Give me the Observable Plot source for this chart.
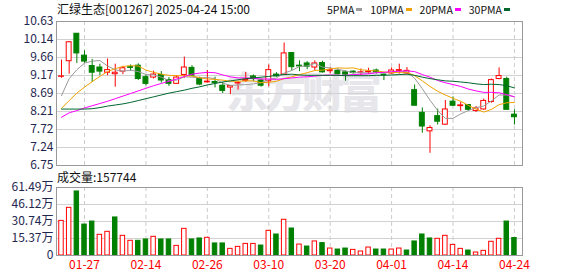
<!DOCTYPE html>
<html><head><meta charset="utf-8">
<script src="https://cdn.jsdelivr.net/npm/d3@7"></script>
<script src="https://cdn.jsdelivr.net/npm/@observablehq/plot@0.6"></script>
<style>
body{margin:0;background:#fff;}
#wrap{position:relative;width:578px;height:276px;overflow:hidden;font-family:"Noto Sans CJK SC","Liberation Sans",sans-serif;color:#111;}
.abs{position:absolute;white-space:nowrap;line-height:14px;}
.sw{position:absolute;width:6px;height:3px;}
#wm{position:absolute;left:226px;top:66px;font-size:42px;font-weight:900;letter-spacing:-4px;color:#e6e6eb;line-height:48px;}
.panel{position:absolute;left:0;}
</style></head><body><div id="wrap"></div>
<script>
const title = "汇绿生态[001267] 2025-04-24 15:00";
const dates = ["01-22","01-23","01-24","01-27","02-05","02-06","02-07","02-10","02-11","02-12","02-13","02-14","02-17","02-18","02-19","02-20","02-21","02-24","02-25","02-26","02-27","02-28","03-03","03-04","03-05","03-06","03-07","03-10","03-11","03-12","03-13","03-14","03-17","03-18","03-19","03-20","03-21","03-24","03-25","03-26","03-27","03-28","03-31","04-01","04-02","04-03","04-07","04-08","04-09","04-10","04-11","04-14","04-15","04-16","04-17","04-18","04-21","04-22","04-23","04-24"];
const open  = [9.14,9.56,10.30,9.71,9.43,9.39,9.25,9.21,9.28,9.40,9.44,9.13,9.12,9.19,9.05,8.95,9.19,9.38,9.08,8.99,9.00,8.90,8.85,8.96,9.03,9.15,9.04,9.02,9.20,9.20,9.78,9.44,9.50,9.39,9.51,9.29,9.30,9.26,9.28,9.25,9.26,9.31,9.20,9.23,9.30,9.23,8.78,8.17,7.67,8.08,7.85,8.47,8.35,8.38,8.22,8.26,8.46,9.08,9.08,8.12];
const high  = [9.59,10.09,10.30,9.84,9.61,9.48,9.62,9.48,9.42,9.46,9.49,9.19,9.29,9.28,9.12,9.17,9.67,9.44,9.13,9.31,9.13,8.99,8.89,9.01,9.26,9.19,9.08,9.46,9.25,10.05,9.79,9.57,9.55,9.57,9.56,9.39,9.35,9.30,9.30,9.35,9.37,9.35,9.21,9.38,9.48,9.39,8.92,8.30,7.82,8.27,8.50,8.60,8.45,8.39,8.34,8.54,9.08,9.38,9.13,8.25];
const low   = [9.10,9.21,9.50,9.50,8.99,9.17,9.17,8.86,9.20,9.29,9.04,8.90,9.08,8.97,8.88,8.94,9.10,9.15,8.90,8.97,8.84,8.69,8.66,8.78,8.99,9.01,8.86,8.87,9.13,9.20,9.30,9.28,9.33,9.30,9.24,9.22,9.19,9.02,9.21,9.17,9.20,9.21,9.04,9.21,9.21,9.21,8.36,7.62,7.08,7.84,7.83,8.34,8.21,8.21,8.18,8.24,8.43,9.06,8.25,7.84];
const close = [9.15,10.07,9.77,9.55,9.25,9.28,9.32,9.25,9.37,9.38,9.08,8.95,9.20,9.04,8.95,9.12,9.39,9.17,8.93,9.01,8.97,8.76,8.89,8.97,9.06,9.08,8.90,9.32,9.15,9.77,9.40,9.42,9.41,9.50,9.26,9.32,9.21,9.20,9.24,9.26,9.28,9.26,9.19,9.31,9.32,9.30,8.36,7.80,7.76,7.93,8.26,8.36,8.37,8.25,8.29,8.49,9.05,9.16,8.25,8.05];
const volume = [313000,431000,579000,280000,307000,187000,214000,344000,178000,133000,133000,145000,169000,145000,145000,87000,241000,145000,154000,160000,109000,109000,60000,78000,105000,105000,90000,223000,190000,323000,244000,99000,81000,127000,112000,63000,54000,63000,51000,36000,72000,54000,54000,54000,63000,45000,127000,190000,154000,151000,178000,96000,60000,45000,27000,42000,124000,151000,307000,157744];
const ma5  = [8.63,9.09,9.33,9.51,9.56,9.58,9.43,9.33,9.29,9.32,9.28,9.20,9.19,9.13,9.04,9.05,9.14,9.13,9.11,9.12,9.09,8.97,8.91,8.92,8.93,8.95,8.98,9.07,9.11,9.24,9.31,9.42,9.43,9.50,9.40,9.38,9.34,9.30,9.25,9.25,9.24,9.25,9.25,9.26,9.27,9.28,9.10,8.82,8.51,8.23,8.02,8.02,8.14,8.23,8.31,8.35,8.49,8.65,8.65,8.60];
const ma10 = [8.29,8.50,8.70,8.86,9.01,9.15,9.28,9.36,9.42,9.44,9.43,9.32,9.26,9.21,9.18,9.17,9.17,9.16,9.12,9.08,9.07,9.05,9.02,9.02,9.03,9.03,8.98,8.99,9.02,9.09,9.14,9.20,9.25,9.31,9.32,9.35,9.38,9.37,9.38,9.33,9.31,9.30,9.27,9.25,9.26,9.26,9.17,9.03,8.88,8.75,8.65,8.56,8.48,8.37,8.27,8.19,8.26,8.39,8.44,8.45];
const ma20 = [8.05,8.17,8.23,8.30,8.36,8.42,8.48,8.55,8.62,8.69,8.76,8.83,8.90,8.96,9.02,9.08,9.15,9.21,9.24,9.26,9.25,9.19,9.14,9.11,9.11,9.10,9.08,9.08,9.07,9.09,9.11,9.13,9.14,9.16,9.18,9.19,9.18,9.18,9.20,9.21,9.22,9.25,9.26,9.28,9.29,9.30,9.28,9.20,9.13,9.04,8.98,8.93,8.88,8.81,8.76,8.72,8.72,8.71,8.66,8.60];
const ma30 = [8.27,8.27,8.27,8.27,8.28,8.31,8.35,8.38,8.41,8.45,8.50,8.55,8.60,8.65,8.70,8.74,8.78,8.83,8.87,8.92,8.96,9.00,9.03,9.06,9.09,9.11,9.13,9.15,9.18,9.20,9.21,9.19,9.18,9.18,9.18,9.18,9.18,9.17,9.17,9.17,9.17,9.18,9.18,9.19,9.20,9.21,9.18,9.13,9.09,9.06,9.03,9.02,9.00,8.98,8.95,8.93,8.94,8.93,8.90,8.84];
const maNames = ["5PMA","10PMA","20PMA","30PMA"];
const maColors = ["#9a9a9a","#f2a200","#ff00ff","#00662e"];
const tickIndex = [3,11,19,27,35,43,51,59];
const priceTicks = [6.75,7.235,7.72,8.205,8.69,9.175,9.66,10.145,10.63];
const priceTickLabels = ["6.75","7.24","7.72","8.21","8.69","9.17","9.66","10.14","10.63"];
const volTicks = [0,153725,307450,461175,614900];
const volTickLabels = ["0","15.37万","30.74万","46.12万","61.49万"];

const RED = "#ff0000", GREEN = "#008000", AXIS = "#1f2750";
const N = close.length;
const candles = d3.range(N).map(i => ({i, o: open[i], h: high[i], l: low[i], c: close[i], v: volume[i],
  up: close[i] >= open[i], rise: i === 0 ? true : close[i] >= close[i - 1]}));
const priceLabel = new Map(priceTicks.map((t, k) => [t, priceTickLabels[k]]));
const volLabel = new Map(volTicks.map((t, k) => [t, volTickLabels[k]]));
const mas = [ma5, ma10, ma20, ma30];
const xOpt = {type: "linear", domain: [-0.65, 60.05]};
const font = {background: "transparent", fontFamily: "'Noto Sans CJK SC','Liberation Sans',sans-serif", fontSize: "12px", overflow: "visible"};
const dash = {stroke: "#cccccc", strokeDasharray: "4,3"};

const price = Plot.plot({
  width: 578, height: 170, marginTop: 21, marginBottom: 5, marginLeft: 56, marginRight: 56,
  style: font,
  x: {...xOpt, axis: null},
  y: {domain: [6.75, 10.63], label: null},
  marks: [
    Plot.ruleY(priceTicks.slice(1, -1), {stroke: "#d2d2d2"}),
    Plot.ruleX(tickIndex, dash),
    Plot.axisY(priceTicks, {anchor: "left", label: null, tickSize: 0, tickPadding: 3, tickFormat: d => priceLabel.get(d), fill: AXIS, fontSize: 12}),
    Plot.ruleX(candles.filter(d => d.up), {x: "i", y1: "l", y2: "h", stroke: RED}),
    Plot.ruleX(candles.filter(d => !d.up), {x: "i", y1: "l", y2: "h", stroke: GREEN}),
    Plot.rect(candles.filter(d => d.up), {x1: d => d.i - 0.32, x2: d => d.i + 0.32, y1: "o", y2: "c", fill: "#fff", stroke: RED}),
    Plot.rect(candles.filter(d => !d.up), {x1: d => d.i - 0.32, x2: d => d.i + 0.32, y1: "o", y2: "c", fill: GREEN, stroke: GREEN}),
    ...mas.map((m, k) => Plot.line(d3.range(N), {x: i => i, y: i => m[i], stroke: maColors[k], strokeWidth: 1})),
    Plot.frame({stroke: "#999"})
  ]
});

const vol = Plot.plot({
  width: 578, height: 106, marginTop: 17, marginBottom: 21, marginLeft: 56, marginRight: 56,
  style: font,
  x: {...xOpt, label: null},
  y: {domain: [0, 614900], label: null},
  marks: [
    Plot.ruleY(volTicks.slice(1, -1), {stroke: "#d2d2d2"}),
    Plot.ruleX(tickIndex, dash),
    Plot.rect(candles.filter(d => d.rise), {x1: d => d.i - 0.29, x2: d => d.i + 0.29, y1: 0, y2: "v", fill: "#fff", stroke: RED}),
    Plot.rect(candles.filter(d => !d.rise), {x1: d => d.i - 0.29, x2: d => d.i + 0.29, y1: 0, y2: "v", fill: GREEN, stroke: GREEN}),
    Plot.axisY(volTicks, {anchor: "left", label: null, tickSize: 0, tickPadding: 3, tickFormat: d => volLabel.get(d), fill: AXIS, fontSize: 12}),
    Plot.axisX(tickIndex, {anchor: "bottom", label: null, tickSize: 0, tickPadding: 5, tickFormat: i => dates[i], fill: RED, fontSize: 12}),
    Plot.frame({stroke: "#999"})
  ]
});

const wrap = document.getElementById("wrap");
const wm = document.createElement("div"); wm.id = "wm"; wm.textContent = "东方财富"; wrap.appendChild(wm);
const p1 = document.createElement("div"); p1.className = "panel"; p1.style.top = "0px"; p1.appendChild(price); wrap.appendChild(p1);
const p2 = document.createElement("div"); p2.className = "panel"; p2.style.top = "170px"; p2.appendChild(vol); wrap.appendChild(p2);

function addText(txt, left, top, size, color) {
  const s = document.createElement("div"); s.className = "abs";
  s.style.left = left + "px"; s.style.top = top + "px"; s.style.fontSize = size + "px"; s.style.color = color;
  s.textContent = txt; wrap.appendChild(s); return s;
}
addText(title, 57, 2, 12, "#111");
addText("成交量:" + volume[N - 1], 57, 170, 12, "#111");
// legend: laid out right-to-left so the last swatch ends near the frame's right side
let xr = 510;
const items = maNames.map((n, k) => {
  const t = addText(n, 0, 3, 10.5, "#111");
  return {t, w: t.getBoundingClientRect().width, k};
});
for (let j = items.length - 1; j >= 0; j--) {
  const it = items[j];
  const sw = document.createElement("div"); sw.className = "sw";
  sw.style.left = (xr - 6) + "px"; sw.style.top = "8px"; sw.style.background = maColors[it.k];
  wrap.appendChild(sw);
  const tl = xr - 6 - 2 - it.w;
  it.t.style.left = tl + "px";
  xr = tl - 8;
}
</script></body></html>
